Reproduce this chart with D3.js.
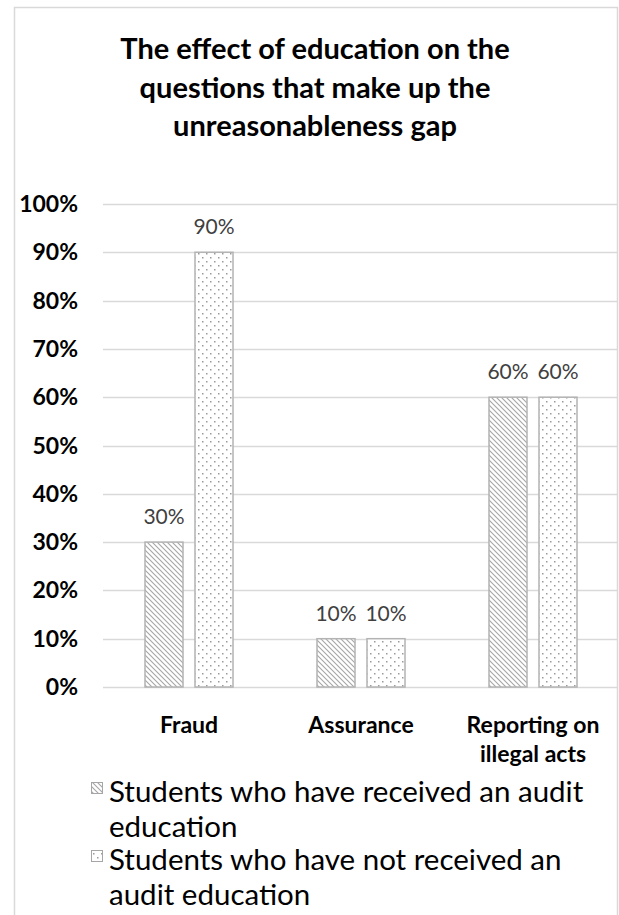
<!DOCTYPE html>
<html>
<head>
<meta charset="utf-8">
<script src="https://cdn.jsdelivr.net/npm/d3@7"></script>
<style>
  body { margin: 0; background: #fff; }
  svg { display: block; font-family: Lato, "Open Sans", sans-serif; }
</style>
</head>
<body>
<svg width="619" height="915"></svg>
<script>
// datos del grafico
const titleLines = ["The effect of education on the", "questions that make up the", "unreasonableness gap"];
const categories = [["Fraud"], ["Assurance"], ["Reporting on", "illegal acts"]];
const seriesNames = [
    "Students who have received an audit education",
    "Students who have not received an audit education"
];
const received = [0.30, 0.10, 0.60];
const notReceived = [0.90, 0.10, 0.60];
const yTicks = [0, 0.1, 0.2, 0.3, 0.4, 0.5, 0.6, 0.7, 0.8, 0.9, 1.0];

const svg = d3.select("svg");
const defs = svg.append("defs");

// patron de lineas diagonales
const diag = defs.append("pattern")
    .attr("id", "diag")
    .attr("patternUnits", "userSpaceOnUse")
    .attr("width", 5).attr("height", 5);
diag.append("rect").attr("width", 5).attr("height", 5).attr("fill", "#fff");
diag.append("path")
    .attr("d", "M-1,-1 L6,6 M-1,4 L1,6 M4,-1 L6,1")
    .attr("stroke", "#a6a6a6").attr("stroke-width", 1.1);

// patron de puntos
const dots = defs.append("pattern")
    .attr("id", "dots")
    .attr("patternUnits", "userSpaceOnUse")
    .attr("width", 8).attr("height", 8);
dots.append("rect").attr("width", 8).attr("height", 8).attr("fill", "#fff");
dots.append("rect").attr("x", 1).attr("y", 1).attr("width", 1.5).attr("height", 1.5).attr("fill", "#9a9a9a");
dots.append("rect").attr("x", 5).attr("y", 5).attr("width", 1.5).attr("height", 1.5).attr("fill", "#9a9a9a");

// marco exterior
svg.append("rect")
    .attr("x", 14.5).attr("y", 7.5)
    .attr("width", 603).attr("height", 930)
    .attr("fill", "#fff").attr("stroke", "#d9d9d9").attr("stroke-width", 1.5);

// titulo
svg.append("text")
    .attr("text-anchor", "middle")
    .attr("font-weight", "bold")
    .attr("font-size", 29)
    .attr("fill", "#000")
    .selectAll("tspan")
    .data(titleLines)
    .enter()
    .append("tspan")
    .attr("x", 315)
    .attr("y", (d, i) => 59 + i * 38.5)
    .text(d => d);

const plot = { left: 103, right: 619, top: 204, bottom: 687 };

const x0 = d3.scaleBand()
    .domain(d3.range(categories.length))
    .range([plot.left, plot.right]);

const x1 = d3.scaleBand()
    .domain([0, 1])
    .range([0, 88])
    .paddingInner(0.24);

const y = d3.scaleLinear()
    .domain([0, 1])
    .range([plot.bottom, plot.top]);

// lineas de cuadricula
svg.append("g")
    .selectAll("line")
    .data(yTicks)
    .enter()
    .append("line")
    .attr("x1", plot.left).attr("x2", 617)
    .attr("y1", d => Math.round(y(d)) + 0.5)
    .attr("y2", d => Math.round(y(d)) + 0.5)
    .attr("stroke", "#d9d9d9")
    .attr("stroke-width", 1.3);

// etiquetas del eje y
svg.append("g")
    .selectAll("text")
    .data(yTicks)
    .enter()
    .append("text")
    .attr("x", 78)
    .attr("y", d => y(d) + 8)
    .attr("text-anchor", "end")
    .attr("font-weight", "bold")
    .attr("font-size", 23)
    .attr("fill", "#000")
    .text(d => d3.format(".0%")(d));

const series = [
    { values: received, fill: "url(#diag)" },
    { values: notReceived, fill: "url(#dots)" }
];

const groups = svg.append("g")
    .selectAll("g")
    .data(categories)
    .enter()
    .append("g")
    .attr("transform", (d, i) => `translate(${x0(i) + x0.bandwidth() / 2 - 44},0)`);

groups.selectAll("rect")
    .data((d, i) => series.map((s, j) => ({ j, v: s.values[i], fill: s.fill })))
    .enter()
    .append("rect")
    .attr("x", d => x1(d.j))
    .attr("y", d => y(d.v))
    .attr("width", x1.bandwidth())
    .attr("height", d => y(0) - y(d.v))
    .attr("fill", d => d.fill)
    .attr("stroke", "#b3b3b3")
    .attr("stroke-width", 1.5);

groups.selectAll("text.val")
    .data((d, i) => series.map((s, j) => ({ j, v: s.values[i] })))
    .enter()
    .append("text")
    .attr("class", "val")
    .attr("x", d => x1(d.j) + x1.bandwidth() / 2)
    .attr("y", d => y(d.v) - 18)
    .attr("text-anchor", "middle")
    .attr("font-size", 21)
    .attr("fill", "#404040")
    .text(d => d3.format(".0%")(d.v));

// etiquetas de categoria
groups.append("text")
    .attr("text-anchor", "middle")
    .attr("font-weight", "bold")
    .attr("font-size", 23)
    .attr("fill", "#000")
    .selectAll("tspan")
    .data(d => d)
    .enter()
    .append("tspan")
    .attr("x", 44)
    .attr("y", (d, i) => 733 + i * 29)
    .text(d => d);

// leyenda
function wrap(str, maxWidth, size) {
    const probe = svg.append("text").attr("font-size", size);
    const words = str.split(" ");
    const lines = [];
    let line = "";
    words.forEach(w => {
        const test = line ? line + " " + w : w;
        probe.text(test);
        if (probe.node().getComputedTextLength() > maxWidth && line) {
            lines.push(line);
            line = w;
        } else {
            line = test;
        }
    });
    lines.push(line);
    probe.remove();
    return lines;
}

const legend = svg.append("g");
let ly = 802;
seriesNames.forEach((name, i) => {
    const lines = wrap(name, 490, 29.5);
    legend.append("rect")
        .attr("x", 91.5).attr("y", ly - 19.5)
        .attr("width", 11).attr("height", 11)
        .attr("fill", series[i].fill)
        .attr("stroke", "#a6a6a6").attr("stroke-width", 1);
    const t = legend.append("text")
        .attr("font-size", 29.5)
        .attr("fill", "#000");
    lines.forEach((l, k) => {
        t.append("tspan").attr("x", 109).attr("y", ly + k * 35).text(l);
    });
    ly += (lines.length - 1) * 35 + 33;
});
</script>
</body>
</html>
